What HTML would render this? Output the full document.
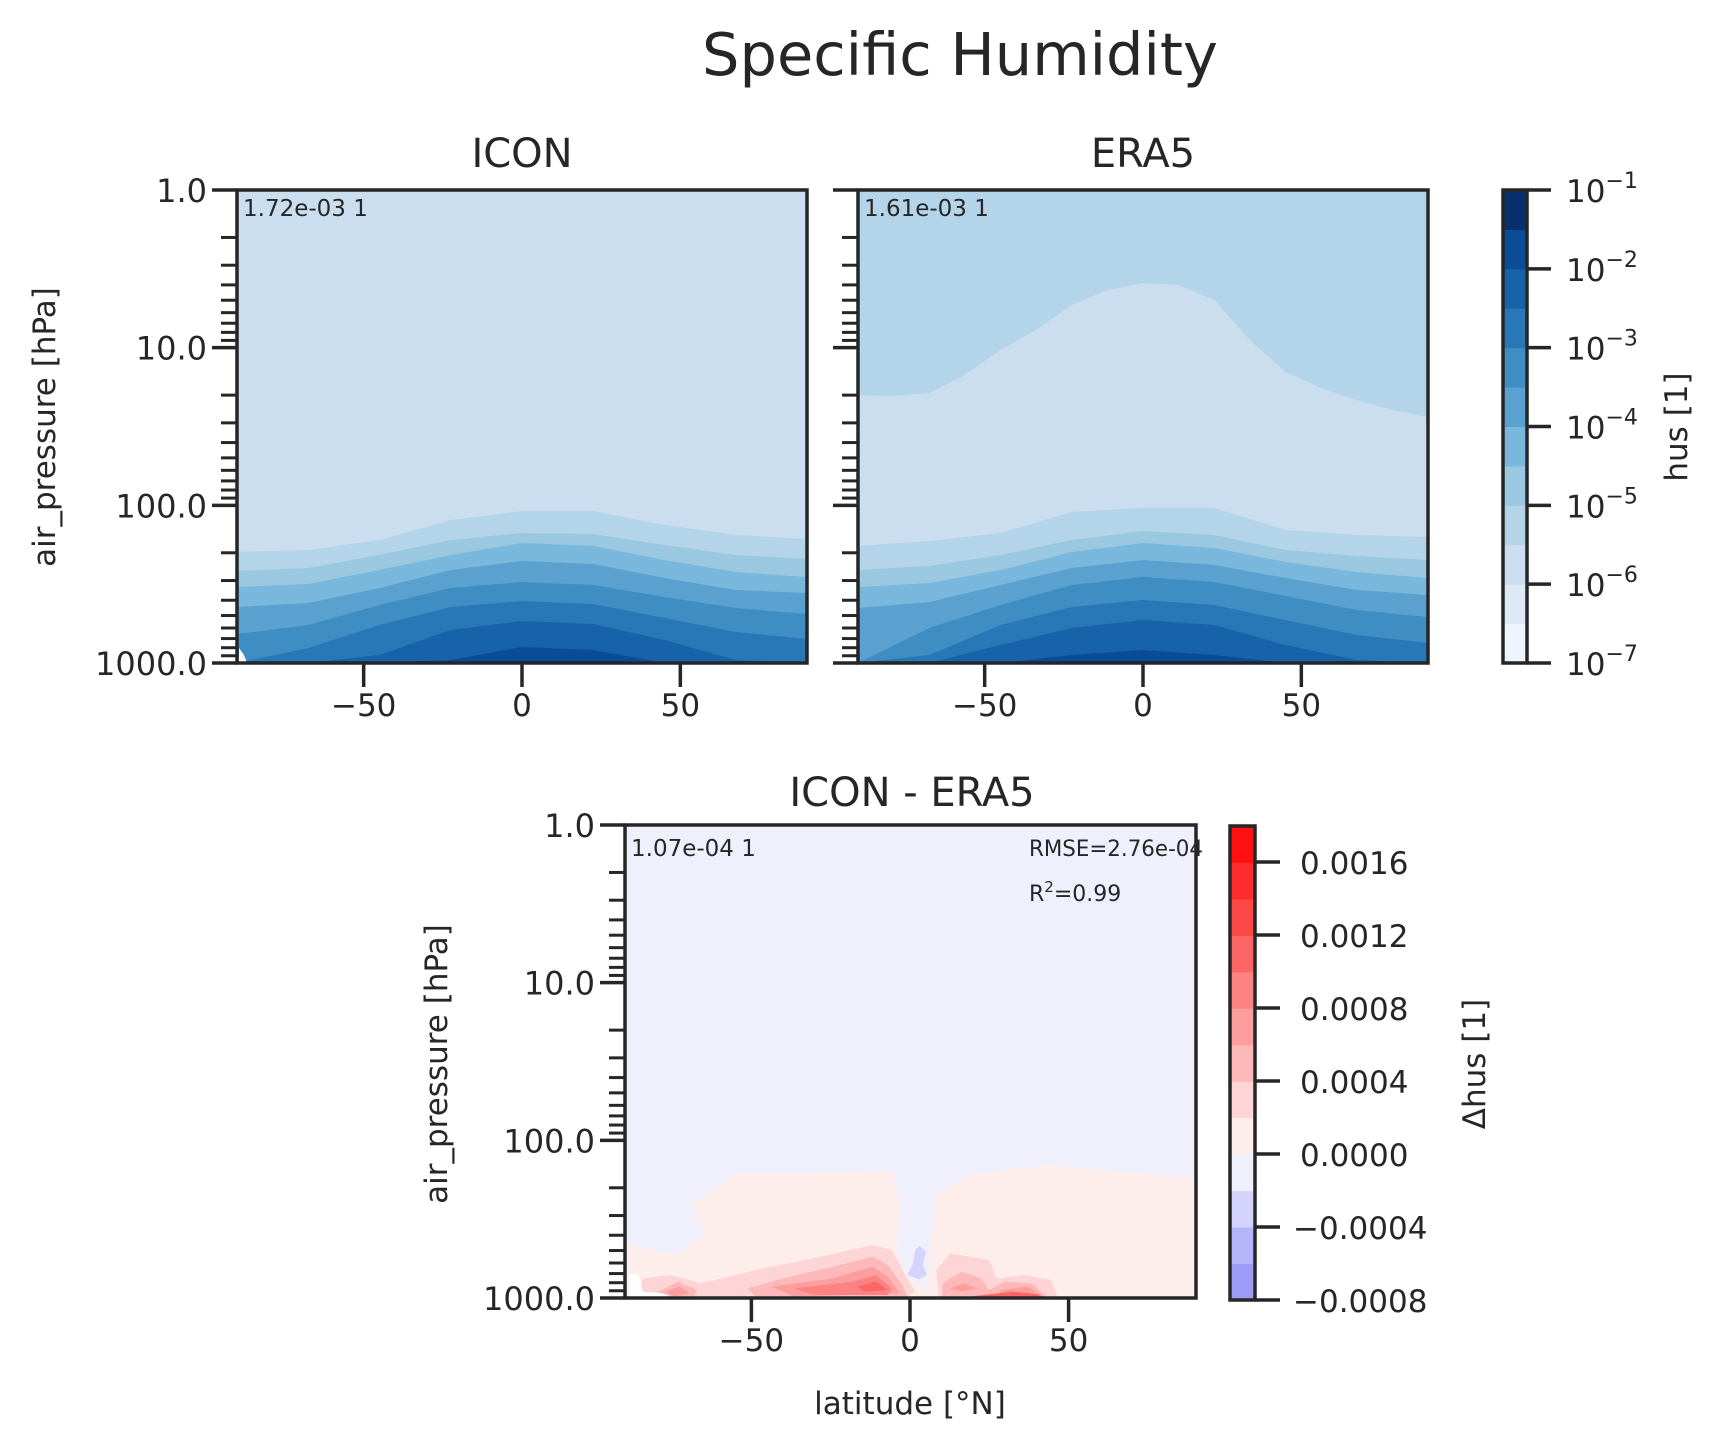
<!DOCTYPE html>
<html><head><meta charset="utf-8"><style>
html,body{margin:0;padding:0;background:#fff;}
svg{display:block;}
text{font-family:"DejaVu Sans","Liberation Sans",sans-serif;fill:#262626;}
</style></head><body>
<svg id="s" width="1722" height="1451" viewBox="0 0 1722 1451" xmlns="http://www.w3.org/2000/svg">
<g id="g"></g>
</svg>
<script>
var g=document.getElementById('g'),h='';
function T(x,y,fs,anc,txt,rot,tl){
  h+='<text transform="translate('+x+','+y+')'+(rot?' rotate(-90)':'')+'" x="0" y="0" font-size="'+fs+'" text-anchor="'+anc+'"'+(tl?' textLength="'+tl+'" lengthAdjust="spacingAndGlyphs"':'')+'>'+txt+'</text>';
}
function P(pts,c){h+='<polygon points="'+pts+'" fill="'+c+'"/>';}
var B=['#eef5fc','#dce9f6','#cadef0','#b4d4e9','#9ac8e0','#7ab7dc','#5aa1d0','#3e8ec4','#2878b8','#1663aa','#0a4c98','#08306b'];
function layers(x0,x1,y0,y1,bg,bs,startIdx,top){
  h+='<rect x="'+x0+'" y="'+y0+'" width="'+(x1-x0)+'" height="'+(y1-y0)+'" fill="'+bg+'"/>';
  if(top){var p=x0+','+y0+' ';for(var i=0;i<top.length;i++)p+=(x0+(x1-x0)*i/(top.length-1))+','+top[i]+' ';p+=x1+','+y0;P(p,B[3]);}
  for(var k=0;k<bs.length;k++){var p='';for(var i=0;i<9;i++)p+=(x0+(x1-x0)*i/8)+','+Math.min(bs[k][i],y1)+' ';p+=x1+','+y1+' '+x0+','+y1;P(p,B[startIdx+k]);}
}
var ic=[[552,550,540,520,511,511,525,535,539],[571,568,555,540,533,534,545,555,559],[587,584,570,555,543,546,560,572,577],[607,603,588,570,561,564,578,590,593],[634,625,605,588,582,585,597,608,614],[663,648,625,607,601,604,618,632,639],[663,663,655,630,621,624,640,660,663],[663,663,663,660,647,650,663,663,663]];
layers(237,807,190,663,B[2],ic,3,null);
P('239,648 244,655 247,663 239,663','#fff');
var er=[[546,541,533,512,508,508,530,535,537],[570,566,555,540,531,535,550,556,560],[587,583,570,552,543,548,562,572,578],[608,602,585,568,560,565,578,590,595],[663,628,605,585,577,582,596,610,617],[663,655,625,607,600,605,620,635,643],[663,663,645,628,620,625,645,660,663],[663,663,663,655,650,655,663,663,663]];
layers(858,1428,190,663,B[2],er,3,[395,396,393,375,350,330,305,290,283,285,300,340,372,388,400,410,417]);
for(var i=0;i<12;i++)h+='<rect x="1503" y="'+(663-(i+1)*473/12)+'" width="24" height="'+(473/12+0.5)+'" fill="'+B[i]+'"/>';
h+='<rect x="1503" y="190" width="24" height="473" fill="none" stroke="#262626" stroke-width="3.5"/>';
for(var i=0;i<7;i++){var y=190+i*473/6;h+='<line x1="1527" x2="1551" y1="'+y+'" y2="'+y+'" stroke="#262626" stroke-width="3.5"/>';
T(1566,y+12,31,'start','10<tspan font-size="22" dy="-14">−'+(i+1)+'</tspan>');}
var D=['#9c9cf8','#b5b5fb','#d3d3fb','#f0f0fd','#fdeeec','#fdd5d6','#fdb9b9','#fc9e9e','#fc8383','#fc6666','#fd4848','#fe2c2c','#ff1111'];
h+='<rect x="625" y="825" width="571" height="473" fill="'+D[3]+'"/>';
h+='<g transform="translate(600,1150) scale(0.389,0.3333)">';
P('70,447 70,280 130,300 200,315 270,250 235,160 350,70 750,65 770,150 765,300 790,380 840,420 845,350 865,130 950,75 1150,45 1527,85 1527,447',D[4]);
P('790,375 805,340 810,300 822,288 838,305 830,345 840,375 820,388',D[2]);
P('100,440 110,385 180,375 260,400 400,360 560,322 700,285 750,300 790,385 810,425 790,440',D[5]);
P('380,415 470,385 600,350 700,320 740,345 780,410 790,440 400,440',D[6]);
P('440,410 600,385 700,350 740,380 770,430 500,440',D[7]);
P('500,415 650,395 710,375 750,415 740,435 550,435',D[8]);
P('660,410 710,395 740,420 680,425',D[9]);
P('150,425 200,395 250,420 240,440 160,440',D[6]);
P('170,425 205,410 230,430 190,440',D[7]);
P('865,360 900,310 1000,330 1020,385 1090,375 1160,390 1175,440 870,440',D[5]);
P('880,400 930,365 980,385 1000,420 1040,395 1110,400 1150,440 880,440',D[6]);
P('900,415 935,400 970,415 930,425',D[7]);
P('1030,420 1100,410 1140,440 1030,440',D[7]);
P('950,440 1060,425 1120,432 1140,440',D[9]);
P('75,370 100,375 110,425 160,430 200,447 75,447','#fff');
h+='</g>';
for(var i=0;i<13;i++)h+='<rect x="1230" y="'+(1300-(i+1)*474/13)+'" width="25" height="'+(474/13+0.5)+'" fill="'+D[i]+'"/>';
h+='<rect x="1230" y="826" width="25" height="474" fill="none" stroke="#262626" stroke-width="3.5"/>';
var dl=['−0.0008','−0.0004','0.0000','0.0004','0.0008','0.0012','0.0016'];
for(var i=0;i<7;i++){var y=1300-i*73;h+='<line x1="1255" x2="1280" y1="'+y+'" y2="'+y+'" stroke="#262626" stroke-width="3.5"/>';
T(i<2?1293:1300,y+12,31,'start',dl[i]);}
var L=[.301,.477,.602,.699,.778,.845,.903,.954];
function axes(x0,x1,y0,y1,labels,xc){
  var dec=(y1-y0)/3;
  for(var d=0;d<3;d++){for(var j=0;j<8;j++){var y=y0+(d+L[j])*dec;h+='<line x1="'+(x0-16)+'" x2="'+x0+'" y1="'+y+'" y2="'+y+'" stroke="#262626" stroke-width="3"/>';}}
  var lab=['1.0','10.0','100.0','1000.0'];
  for(var d=0;d<4;d++){var y=y0+d*dec;h+='<line x1="'+(x0-25)+'" x2="'+x0+'" y1="'+y+'" y2="'+y+'" stroke="#262626" stroke-width="3.5"/>';
   if(labels)T(x0-30,y+12,32,'end',lab[d]);}
  var w=(x1-x0)/180;var xs=[[-50,'−50'],[0,'0'],[50,'50']];
  for(var k=0;k<3;k++){var x=xc+xs[k][0]*w;h+='<line x1="'+x+'" x2="'+x+'" y1="'+y1+'" y2="'+(y1+24)+'" stroke="#262626" stroke-width="3.5"/>';
   T(x,y1+53,31,'middle',xs[k][1]);}
  h+='<rect x="'+x0+'" y="'+y0+'" width="'+(x1-x0)+'" height="'+(y1-y0)+'" fill="none" stroke="#262626" stroke-width="3.5"/>';
}
axes(237,807,190,663,true,522);
axes(858,1428,190,663,false,1143);
axes(625,1196,825,1298,true,910);
T(960,75,59,'middle','Specific Humidity');
T(522,167,40,'middle','ICON');
T(1143,167,40,'middle','ERA5');
T(912,806,40,'middle','ICON - ERA5');
T(55,427,31,'middle','air_pressure [hPa]',true);
T(447,1064,31,'middle','air_pressure [hPa]',true);
T(910,1414,31,'middle','latitude [°N]');
T(1687,427,31,'middle','hus [1]',true);
T(1485,1064,31,'middle','Δhus [1]',true);
T(243,216,23,'start','1.72e-03 1');
T(864,216,23,'start','1.61e-03 1');
T(631,856,23,'start','1.07e-04 1');
T(1029,856,22,'start','RMSE=2.76e-04',false,174);
T(1029,901,22,'start','R<tspan font-size="15" dy="-9">2</tspan><tspan dy="9">=0.99</tspan>');
g.innerHTML=h;
</script>
</body></html>
